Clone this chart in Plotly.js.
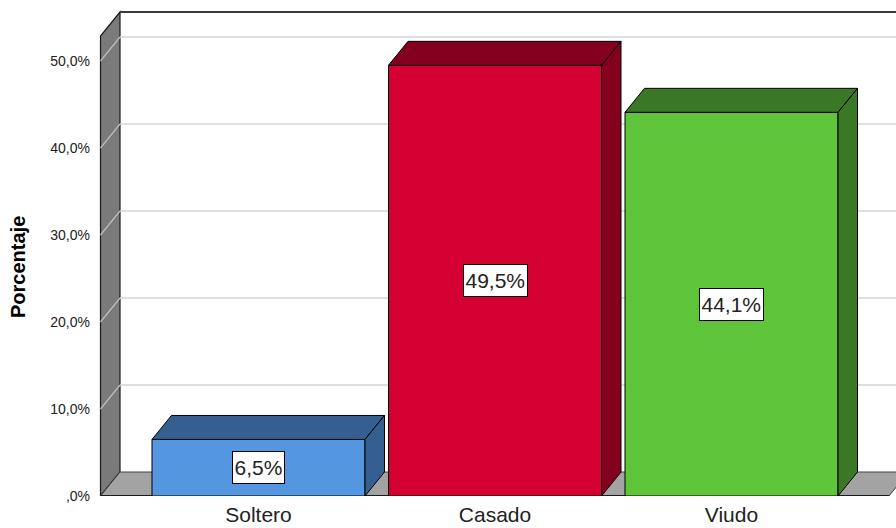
<!DOCTYPE html>
<html>
<head>
<meta charset="utf-8">
<script src="https://cdn.plot.ly/plotly-3.0.1.min.js"></script>
<style>html,body{margin:0;padding:0;background:#fff;}#chart{width:896px;height:528px;}</style>
</head>
<body>
<div id="chart"></div>
<script>
// ---- data ----
const categories = ['Soltero', 'Casado', 'Viudo'];
const percentages = [6.5, 49.5, 44.1];
const valueLabels = ['6,5%', '49,5%', '44,1%'];
const tickValues = [0, 10, 20, 30, 40, 50];
const tickLabels = [',0%', '10,0%', '20,0%', '30,0%', '40,0%', '50,0%'];
const frontColors = ['#5596E1', '#D50032', '#5EC43A'];
const depthColors = ['#355E91', '#84001F', '#3B7826'];

// ---- geometry (pixels) ----
const W = 896, H = 528;
const M = {l: 90, r: 0, t: 0, b: 32};
const plotW = W - M.l - M.r, plotH = H - M.t - M.b;
const catPx = 236.5, pctPx = 8.7;
const firstCenterPx = 258.5;
const xmin = -(firstCenterPx - M.l) / catPx;
const xmax = xmin + plotW / catPx;
const ymax = plotH / pctPx;
const ddx = 19.5 / catPx;     // depth offset in category units
const ddy = 24 / pctPx;       // depth offset in percent units
const barW = 213 / catPx;
const wallLeft = xmin + (100.5 - M.l) / catPx;
const wallRight = (889 - firstCenterPx) / catPx;
const wallTop = (496 - 36) / pctPx;

const FONT = 'Liberation Sans, Arial, sans-serif';

// ---- walls, floor and gridlines as shapes ----
const shapes = [];
function poly(pts) {
  return 'M' + pts.map(p => p[0] + ',' + p[1]).join(' L') + ' Z';
}
// back wall
shapes.push({type: 'path', xref: 'x', yref: 'y', layer: 'below',
  path: poly([[wallLeft + ddx, ddy], [wallRight + ddx, ddy], [wallRight + ddx, wallTop + ddy], [wallLeft + ddx, wallTop + ddy]]),
  fillcolor: '#ffffff', line: {width: 0}});
// left wall
shapes.push({type: 'path', xref: 'x', yref: 'y', layer: 'below',
  path: poly([[wallLeft, 0], [wallLeft, wallTop], [wallLeft + ddx, wallTop + ddy], [wallLeft + ddx, ddy]]),
  fillcolor: '#7A7A7A', line: {color: '#1a1a1a', width: 1.2}});
// gridlines
tickValues.forEach(v => {
  if (v === 0) return;
  shapes.push({type: 'line', xref: 'x', yref: 'y', layer: 'below',
    x0: wallLeft + ddx, x1: wallRight + ddx, y0: v + ddy, y1: v + ddy,
    line: {color: '#D4D4D4', width: 1.5}});
  shapes.push({type: 'line', xref: 'x', yref: 'y', layer: 'below',
    x0: wallLeft, x1: wallLeft + ddx, y0: v, y1: v + ddy,
    line: {color: '#BDBDBD', width: 1.2}});
});
// back wall top line
shapes.push({type: 'line', xref: 'x', yref: 'y', layer: 'below',
  x0: wallLeft + ddx, x1: wallRight + ddx, y0: wallTop + ddy, y1: wallTop + ddy,
  line: {color: '#3a3a3a', width: 2}});
// floor
shapes.push({type: 'path', xref: 'x', yref: 'y', layer: 'below',
  path: poly([[wallLeft, 0], [wallRight, 0], [wallRight + ddx, ddy], [wallLeft + ddx, ddy]]),
  fillcolor: '#A3A3A3', line: {color: '#444444', width: 1}});
// floor front edge
shapes.push({type: 'line', xref: 'x', yref: 'y', layer: 'below',
  x0: wallLeft, x1: wallRight, y0: 0, y1: 0,
  line: {color: '#1a1a1a', width: 1.8}});

// ---- traces ----
const traces = [];
traces.push({
  type: 'bar', x: categories.map((c, i) => i), y: percentages, width: barW,
  marker: {color: frontColors, line: {color: '#000000', width: 1}},
  hoverinfo: 'skip', showlegend: false
});
percentages.forEach((v, i) => {
  const xl = i - barW / 2, xr = i + barW / 2;
  // top face
  traces.push({type: 'scatter', mode: 'lines', fill: 'toself',
    x: [xl, xr, xr + ddx, xl + ddx, xl], y: [v, v, v + ddy, v + ddy, v],
    fillcolor: depthColors[i], line: {color: '#000000', width: 1},
    hoverinfo: 'skip', showlegend: false});
  // side face
  traces.push({type: 'scatter', mode: 'lines', fill: 'toself',
    x: [xr, xr, xr + ddx, xr + ddx, xr], y: [0, v, v + ddy, ddy, 0],
    fillcolor: depthColors[i], line: {color: '#000000', width: 1},
    hoverinfo: 'skip', showlegend: false});
});

const annotations = percentages.map((v, i) => ({
  x: i, y: v / 2, xref: 'x', yref: 'y', text: valueLabels[i], showarrow: false,
  font: {family: FONT, size: 21, color: '#222'}, height: 28,
  bgcolor: '#ffffff', bordercolor: '#000000', borderwidth: 1, borderpad: 1.5
}));
annotations.push({
  xref: 'paper', yref: 'paper', x: (18 - M.l) / plotW, y: (496 - 267) / plotH,
  text: '<b>Porcentaje</b>', textangle: -90, showarrow: false,
  xanchor: 'center', yanchor: 'middle',
  font: {family: FONT, size: 20, color: '#000'}
});

const layout = {
  width: W, height: H, margin: M,
  paper_bgcolor: '#ffffff', plot_bgcolor: '#ffffff',
  showlegend: false, bargap: 0,
  xaxis: {range: [xmin, xmax], tickmode: 'array', tickvals: [0, 1, 2], ticktext: categories,
    showgrid: false, zeroline: false, showline: false, ticks: '', ticklabelstandoff: 4,
    tickfont: {family: FONT, size: 21, color: '#222'}, fixedrange: true},
  yaxis: {range: [0, ymax], tickmode: 'array', tickvals: tickValues, ticktext: tickLabels,
    showgrid: false, zeroline: false, showline: false, ticks: '', ticklabelstandoff: -1,
    tickfont: {family: FONT, size: 14, color: '#222'}, fixedrange: true},
  shapes: shapes,
  annotations: annotations
};

Plotly.newPlot('chart', traces, layout, {staticPlot: true, displayModeBar: false});
</script>
</body>
</html>
